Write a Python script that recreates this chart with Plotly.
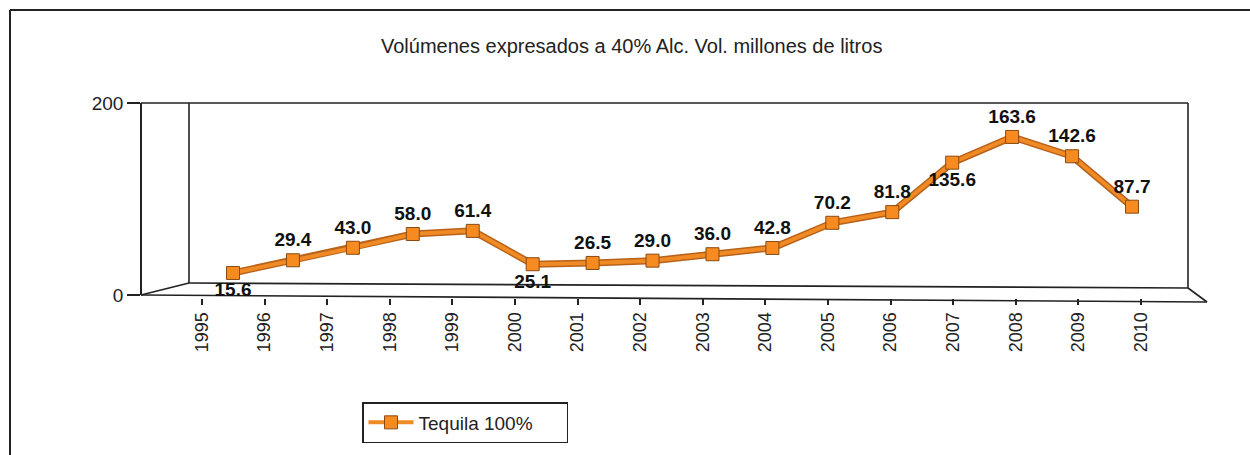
import plotly.graph_objects as go

# ---------------- data ----------------
years = [1995, 1996, 1997, 1998, 1999, 2000, 2001, 2002, 2003,
         2004, 2005, 2006, 2007, 2008, 2009, 2010]
tequila_100 = [15.6, 29.4, 43.0, 58.0, 61.4, 25.1, 26.5, 29.0, 36.0,
               42.8, 70.2, 81.8, 135.6, 163.6, 142.6, 87.7]
year_labels = [str(y) for y in years]
label_pos = ["bottom center", "top center", "top center", "top center", "top center",
             "bottom center", "top center", "top center", "top center", "top center",
             "top center", "top center", "bottom center", "top center", "top center",
             "top center"]
y_ticks = [0, 200]
subtitle = "Volúmenes expresados a 40% Alc. Vol. millones de litros"
series_name = "Tequila 100%"

# ---------------- layout geometry (pixels) ----------------
W, H = 1250, 455
FONT = "Liberation Sans, Arial, sans-serif"


def fx(px):
    return px / W


def fy(py):
    return 1 - py / H


def axis_range(v0, p0, v1, p1, total):
    slope = (p1 - p0) / (v1 - v0)
    return [v0 - p0 / slope, v0 + (total - p0) / slope]


fig = go.Figure()

# ribbon shadow of the line (3D look)
fig.add_trace(go.Scatter(
    x=years, y=tequila_100, mode="lines",
    line=dict(color="#B8621A", width=7),
    hoverinfo="skip", showlegend=False, cliponaxis=False,
    xaxis="x", yaxis="y"))

# main series
fig.add_trace(go.Scatter(
    x=years, y=tequila_100, mode="lines+markers+text",
    name=series_name,
    line=dict(color="#F08A24", width=4),
    marker=dict(symbol="square", size=13, color="#F78B1F",
                line=dict(color="#8A4A12", width=1)),
    text=[f"{v:.1f}" for v in tequila_100],
    textposition=label_pos,
    textfont=dict(family=FONT, size=19, color="#111111", weight="bold"),
    cliponaxis=False,
    xaxis="x", yaxis="y"))

# helper (invisible) trace carrying the front axes
fig.add_trace(go.Scatter(
    x=years, y=tequila_100, mode="markers",
    marker=dict(opacity=0), hoverinfo="skip", showlegend=False,
    xaxis="x2", yaxis="y2"))

dark = "#222222"
lw = 1.6


def seg(x0, y0, x1, y1, w=lw):
    fig.add_shape(type="line", xref="paper", yref="paper",
                  x0=fx(x0), y0=fy(y0), x1=fx(x1), y1=fy(y1),
                  line=dict(color=dark, width=w), layer="below")


# outer frame
seg(10, 10, 1250, 10, 2)
seg(10, 10, 10, 455, 2)
# 3D walls
seg(141, 103, 1188, 103)
seg(189, 103, 189, 283)
seg(1188, 103, 1188, 288)
seg(189, 283, 1188, 288)
seg(141, 295, 189, 283)
seg(1188, 288, 1207, 302)
seg(141, 295, 1207, 302)

fig.add_annotation(text=subtitle, xref="paper", yref="paper",
                   x=fx(631), y=fy(46), showarrow=False,
                   xanchor="center", yanchor="middle",
                   font=dict(family=FONT, size=20, color=dark))

fig.update_layout(
    width=W, height=H, autosize=False,
    margin=dict(l=0, r=0, t=0, b=0, pad=0, autoexpand=False),
    paper_bgcolor="white", plot_bgcolor="rgba(0,0,0,0)",
    font=dict(family=FONT, size=18, color=dark),
    xaxis=dict(domain=[0, 1], range=axis_range(1995, 233, 2010, 1132, W),
               visible=False, fixedrange=True),
    yaxis=dict(domain=[fy(287.3), fy(103.5)], range=[0, 200],
               visible=False, fixedrange=True),
    xaxis2=dict(domain=[0, 1], range=axis_range(1995, 202, 2010, 1141, W),
                anchor="free", position=fy(298), automargin=False,
                tickmode="array", tickvals=years, ticktext=year_labels,
                tickangle=-90, ticks="outside", ticklen=6, tickwidth=1.5,
                tickcolor=dark, showline=False, showgrid=False, zeroline=False,
                tickfont=dict(family=FONT, size=18, color=dark)),
    yaxis2=dict(domain=[fy(295), fy(103)], range=[0, 200],
                anchor="free", position=fx(141), automargin=False,
                tickmode="array", tickvals=y_ticks,
                ticks="outside", ticklen=13, tickwidth=1.5, tickcolor=dark,
                showline=True, linecolor=dark, linewidth=lw,
                showgrid=False, zeroline=False,
                tickfont=dict(family=FONT, size=19, color=dark)),
    legend=dict(x=fx(362), y=fy(402), xanchor="left", yanchor="top",
                orientation="h",
                bordercolor=dark, borderwidth=1.5, bgcolor="white",
                font=dict(family=FONT, size=19, color=dark),
                entrywidth=143, entrywidthmode="pixels", itemwidth=45),
    showlegend=True,
)

fig.write_html(
    "out.html",
    config={"displayModeBar": False},
    post_script=(
        "document.documentElement.style.margin='0';"
        "document.documentElement.style.overflow='hidden';"
        "document.body.style.margin='0';"
        "document.body.style.overflow='hidden';"
        "document.body.style.height='455px';"
        "var d=document.getElementsByClassName('plotly-graph-div')[0];"
        "d.style.position='fixed';d.style.left='0px';d.style.top='0px';"
    ),
)
